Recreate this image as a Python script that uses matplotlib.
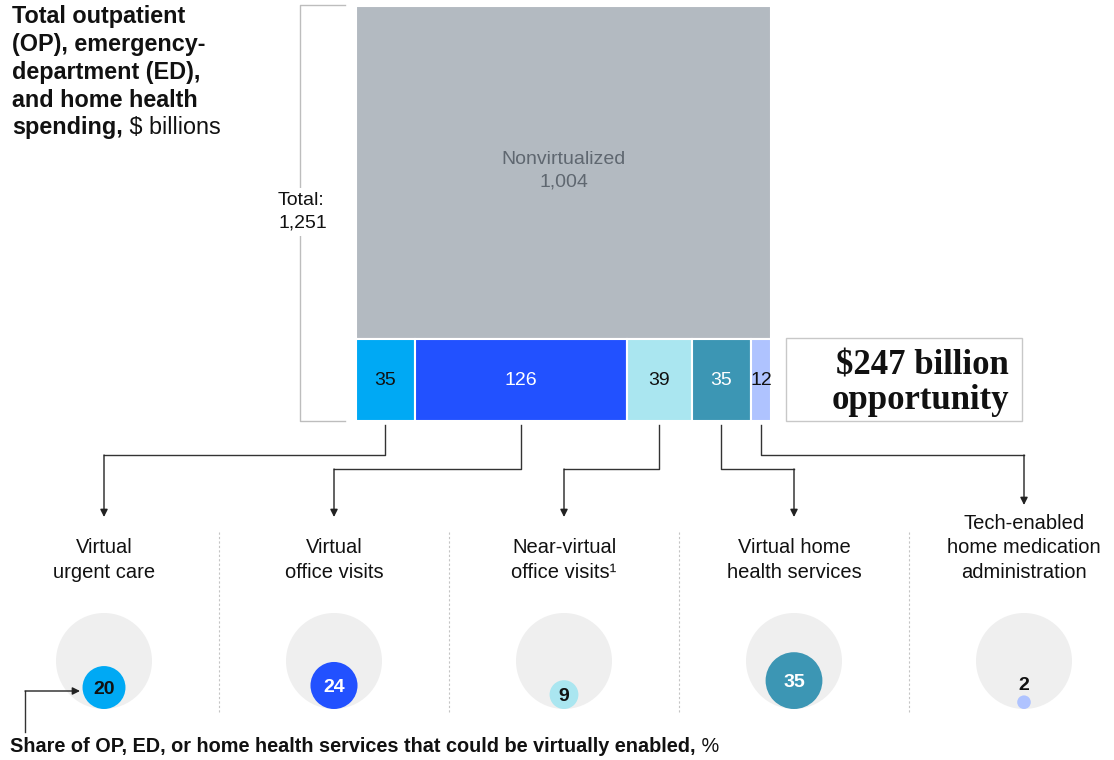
import numpy as np
import matplotlib.pyplot as plt
from matplotlib.patches import Rectangle, Circle

plt.rcParams['font.family'] = ['Liberation Sans', 'DejaVu Sans']

# spending, $ billions
total = 1251
nonvirtual = 1004
spend = [35, 126, 39, 35, 12]
# share that could be virtually enabled, %
share = [20, 24, 9, 35, 2]
labels = ['Virtual\nurgent care', 'Virtual\noffice visits', 'Near-virtual\noffice visits\u00b9',
          'Virtual home\nhealth services', 'Tech-enabled\nhome medication\nadministration']
colors = ['#00a9f4', '#2251ff', '#aae6f0', '#3c96b4', '#afc3ff']
ink = ['#111111', 'white', '#111111', 'white', '#111111']

fig = plt.figure(figsize=(11.14, 7.6), dpi=100)
ax = fig.add_axes([0, 0, 1, 1])
ax.set_xlim(0, 1114)
ax.set_ylim(760, 0)
ax.axis('off')
renderer = fig.canvas.get_renderer()


def rich_text(x, y, parts, **kw):
    # draw text pieces one after another with different weights
    for s, weight in parts:
        t = ax.text(x, y, s, fontweight=weight, ha='left', **kw)
        bb = t.get_window_extent(renderer=renderer)
        x = ax.transData.inverted().transform((bb.x1, bb.y0))[0]


# title
title_lines = ['Total outpatient', '(OP), emergency-', 'department (ED),', 'and home health']
for i, line in enumerate(title_lines):
    ax.text(12, 17 + i * 27.7, line, fontsize=16.8, fontweight='bold', va='center', color='#111111')
rich_text(12, 17 + 4 * 27.7, [('spending,', 'bold'), (' $ billions', 'normal')],
          fontsize=16.8, va='center', color='#111111')

# treemap: a square whose area is the total
side = 415
x0, y0 = 356, 6
h_top = side * nonvirtual / total
ax.add_patch(Rectangle((x0, y0), side, h_top, fc='#b3bac1', ec='white', lw=1.5))
ax.text(x0 + side / 2, y0 + h_top / 2 - 2, 'Nonvirtualized\n{:,}'.format(nonvirtual), ha='center', va='center',
        fontsize=14, color='#5f6770', linespacing=1.45)

row_y = y0 + h_top
row_h = side - h_top
opp = sum(spend)
seg_x = []
x = x0
for v, c, tc in zip(spend, colors, ink):
    w = side * v / opp
    ax.add_patch(Rectangle((x, row_y), w, row_h, fc=c, ec='white', lw=1.5))
    ax.text(x + w / 2, row_y + row_h / 2, str(v), ha='center', va='center', fontsize=14, color=tc)
    seg_x.append(x + w / 2)
    x += w

# total bracket
ax.plot([345, 300, 300, 345], [5, 5, 421, 421], color='#bdbdbd', lw=1)
ax.text(278, 212, 'Total:\n{:,}'.format(total), ha='left', va='center', fontsize=14, color='#111111',
        linespacing=1.45, bbox=dict(fc='white', ec='none', pad=3))

# opportunity box
ax.add_patch(Rectangle((786, 338), 236, 83, fill=False, ec='#c8c8c8', lw=1))
ax.text(1009, 383, '${} billion\nopportunity'.format(opp), ha='right', va='center', ma='right',
        fontsize=25, fontweight='bold', family=['Liberation Serif', 'DejaVu Serif'],
        linespacing=1.05, color='#111111')

# columns with connectors and circles
col_x = [104 + 230 * i for i in range(5)]
bend_y = [455, 469, 469, 469, 455]
tip_y = [517, 517, 517, 517, 505]
for i in range(5):
    sx, cx = seg_x[i], col_x[i]
    ax.plot([sx, sx, cx], [425, bend_y[i], bend_y[i]], color='#333333', lw=1)
    ax.annotate('', xy=(cx, tip_y[i]), xytext=(cx, bend_y[i]),
                arrowprops=dict(arrowstyle='-|>', color='#222222', lw=1, mutation_scale=11,
                                shrinkA=0, shrinkB=0))
    ax.text(cx, 582, labels[i], ha='center', va='bottom', fontsize=14.5, color='#111111', linespacing=1.38)

    R = 48
    ax.add_patch(Circle((cx, 661), R, fc='#efefef', ec='none'))
    r = R * np.sqrt(share[i] / 100)
    cy = 709 - r
    ax.add_patch(Circle((cx, cy), r, fc=colors[i], ec='none'))
    if r > 10:
        ax.text(cx, cy + 2, str(share[i]), ha='center', va='center', fontsize=14, fontweight='bold', color=ink[i])
    else:
        ax.text(cx, 686, str(share[i]), ha='center', va='center', fontsize=14, fontweight='bold', color='#111111')

for i in range(4):
    sep = (col_x[i] + col_x[i + 1]) / 2
    ax.plot([sep, sep], [532, 712], color='#c4c4c4', lw=0.8, ls=(0, (2, 2)))

# footnote arrow and label
ax.plot([25, 25], [732, 691], color='#333333', lw=1)
ax.annotate('', xy=(80, 691), xytext=(25, 691),
            arrowprops=dict(arrowstyle='-|>', color='#222222', lw=1, mutation_scale=11, shrinkA=0, shrinkB=0))
rich_text(10, 746, [('Share of OP, ED, or home health services that could be virtually enabled,', 'bold'),
                    (' %', 'normal')], fontsize=14.3, va='center', color='#111111')

fig.savefig('out.png', dpi=100)
